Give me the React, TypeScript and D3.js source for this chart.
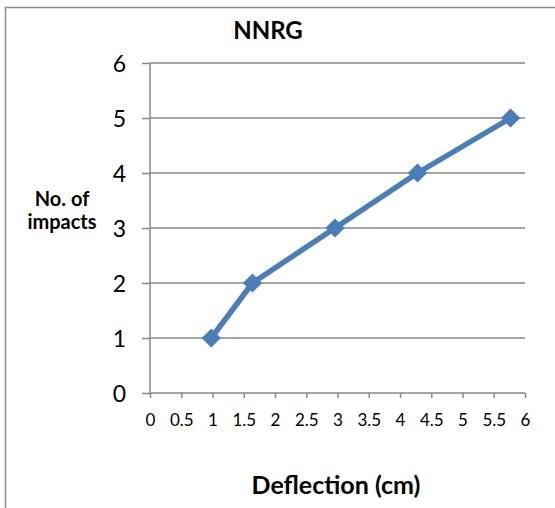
import React, { useEffect, useRef } from "react";
import * as d3 from "d3";

const deflection = [0.98, 1.64, 2.96, 4.28, 5.77];
const impacts = [1, 2, 3, 4, 5];
const xTicks = [0, 0.5, 1, 1.5, 2, 2.5, 3, 3.5, 4, 4.5, 5, 5.5, 6];
const yTicks = [0, 1, 2, 3, 4, 5, 6];
const title = "NNRG";
const xTitle = "Deflection (cm)";
const yTitleLines = ["No. of", "impacts"];

const W = 555;
const H = 508;
const FONT = "Lato, 'Open Sans', sans-serif";

export default function App() {
  const ref = useRef<SVGSVGElement>(null);
  useEffect(() => {
    const svg = d3.select(ref.current);
    svg.selectAll("*").remove();
    const x = d3.scaleLinear().domain([0, 6]).range([150, 525]);
    const y = d3.scaleLinear().domain([0, 6]).range([393, 63]);

    // frame
    svg.append("rect").attr("x", 5.5).attr("y", 7.5).attr("width", 700).attr("height", 700)
      .attr("fill", "white").attr("stroke", "#8c8c8c").attr("stroke-width", 1.5);

    // gridlines
    svg.append("g").selectAll("line").data(yTicks.filter(d => d > 0)).join("line")
      .attr("x1", x(0)).attr("x2", x(6)).attr("y1", d => y(d)).attr("y2", d => y(d))
      .attr("stroke", "#878787").attr("stroke-width", 1.5);

    // y axis
    const yAxis = d3.axisLeft(y).tickValues(yTicks).tickSize(8).tickFormat(d3.format("d"));
    const gy = svg.append("g").attr("transform", `translate(${x(0)},0)`).call(yAxis);
    gy.select(".domain").attr("stroke", "#878787").attr("stroke-width", 1.5).attr("d", `M0,${y(6)}V${y(0)}`);
    gy.selectAll(".tick line").attr("stroke", "#878787").attr("stroke-width", 1.5);
    gy.selectAll(".tick text").attr("font-family", FONT).attr("font-size", 23).attr("fill", "#000")
      .attr("x", -24).attr("dy", "0.38em");

    // x axis
    const xAxis = d3.axisBottom(x).tickValues(xTicks).tickSize(5).tickFormat(d => String(d));
    const gx = svg.append("g").attr("transform", `translate(0,${y(0)})`).call(xAxis);
    gx.select(".domain").attr("stroke", "#878787").attr("stroke-width", 1.5).attr("d", `M${x(0)},0H${x(6)}`);
    gx.selectAll(".tick line").attr("stroke", "#878787").attr("stroke-width", 1.5);
    gx.selectAll(".tick text").attr("font-family", FONT).attr("font-size", 17).attr("fill", "#000")
      .attr("y", 33).attr("dy", 0);

    // line
    const pts = deflection.map((d, i) => [d, impacts[i]] as [number, number]);
    const line = d3.line<[number, number]>().x(d => x(d[0])).y(d => y(d[1]));
    svg.append("path").datum(pts).attr("d", line).attr("fill", "none")
      .attr("stroke", "#4a7ebb").attr("stroke-width", 5.5).attr("stroke-linejoin", "round");

    const sym = d3.symbol().type(d3.symbolSquare).size(185);
    svg.append("g").selectAll("path").data(pts).join("path")
      .attr("d", sym)
      .attr("transform", d => `translate(${x(d[0])},${y(d[1])}) rotate(45)`)
      .attr("fill", "#4a7ebb");

    // titles
    svg.append("text").attr("x", 268).attr("y", 39).attr("text-anchor", "middle")
      .attr("font-family", FONT).attr("font-weight", "bold").attr("font-size", 24).text(title);
    svg.append("text").attr("x", 336).attr("y", 494).attr("text-anchor", "middle")
      .attr("font-family", FONT).attr("font-weight", "bold").attr("font-size", 25).text(xTitle);
    svg.append("text").attr("text-anchor", "middle").attr("font-family", FONT)
      .attr("font-weight", "bold").attr("font-size", 20)
      .selectAll("tspan").data(yTitleLines).join("tspan")
      .attr("x", 62).attr("y", (d, i) => 206 + i * 23).text(d => d);
  }, []);
  return (
    <svg ref={ref} width={W} height={H}
      style={{ position: "absolute", left: 0, top: 0, display: "block", background: "white" }} />
  );
}
